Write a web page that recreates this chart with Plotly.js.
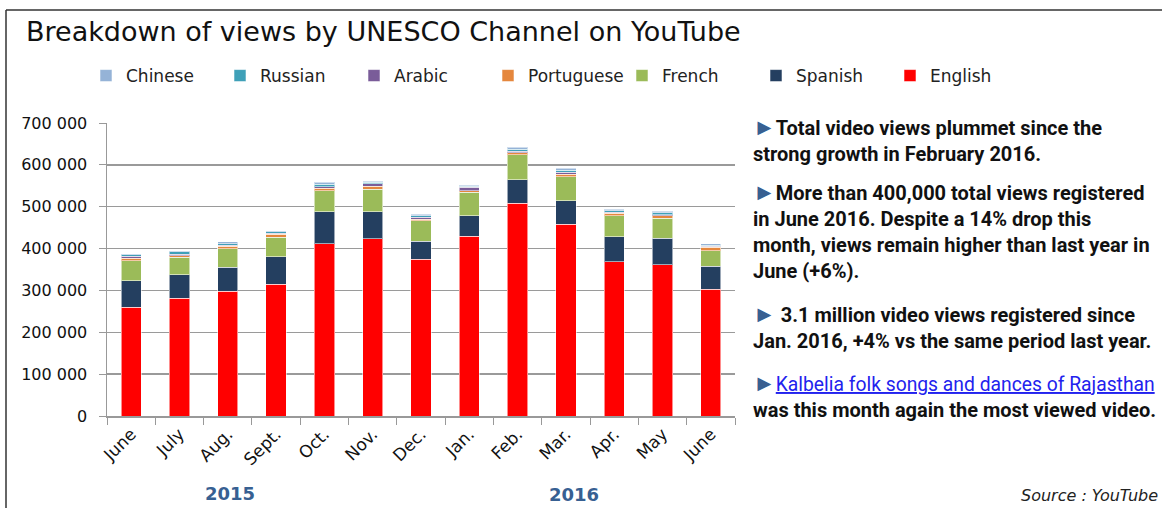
<!DOCTYPE html>
<html><head><meta charset="utf-8">
<script src="https://cdn.plot.ly/plotly-3.0.1.min.js"></script>
<style>html,body{margin:0;padding:0;background:#fff}#chart{width:1162px;height:508px}</style>
</head><body><div id="chart"></div>
<script>
// ---- data ----
const months = ['June','July','Aug.','Sept.','Oct.','Nov.','Dec.','Jan.','Feb.','Mar.','Apr.','May','June'];
const years  = ['2015','2015','2015','2015','2015','2015','2015','2016','2016','2016','2016','2016','2016'];
const english    = [260000,281000,298000,315000,412000,424000,374000,429000,508000,458000,368000,361000,303000];
const spanish    = [63000,56000,57000,65000,76000,64000,44000,49000,56000,56000,60000,64000,55000];
const french     = [48000,42000,45000,47000,50000,54000,48000,56000,60000,58000,50000,48000,37000];
const portuguese = [6000,4000,6000,7000,6000,7000,4000,4000,5000,6000,6000,5000,8000];
const arabic     = [5000,4000,2000,3000,4000,6000,5000,8000,3000,4000,3000,3000,3000];
const russian    = [3000,5000,4000,3000,6000,3000,4000,3000,5000,5000,3000,4000,2000];
const chinese    = [3000,2000,4000,2000,5000,3000,3000,2000,5000,5000,4000,4000,3000];
const seriesNames = ['English','Spanish','French','Portuguese','Arabic','Russian','Chinese'];
const seriesData  = [english,spanish,french,portuguese,arabic,russian,chinese];
const colors = ['#FF0000','#243F60','#9BBB59','#E5873D','#7A5C99','#3FA0B8','#95B3D7'];

const cats = months.map((m,i)=>m+' '+years[i]);

// ---- geometry helpers ----
const L=107, R=735, T=123, B=416;
const px = x => (x-L)/(R-L);
const py = y => (B-y)/(B-T);

const traces = seriesNames.map((n,i)=>({
  type:'bar', name:n, x:cats, y:seriesData[i],
  marker:{color:colors[i], line:{color:'rgba(255,255,255,0.55)', width:1}},
  hoverinfo:'skip'
}));

const arrow = '<span style="color:#376092;font-size:23px">►</span>';
const txtFont = {family:'Roboto, Liberation Sans, Arial', size:20, color:'#111'};

const annotations = [
  {text:'Breakdown of views by UNESCO Channel on YouTube', x:px(24), y:py(31), xanchor:'left', yanchor:'middle',
   font:{family:'DejaVu Sans', size:27, color:'#111'}},
  {text:'2015', x:px(230), y:py(493), xanchor:'center', yanchor:'middle', font:{family:'DejaVu Sans', size:18, color:'#376092', weight:'bold'}},
  {text:'2016', x:px(574), y:py(494), xanchor:'center', yanchor:'middle', font:{family:'DejaVu Sans', size:18, color:'#376092', weight:'bold'}},
  {text:arrow+'<b>Total video views plummet since the<br>strong growth in February 2016.</b>', x:px(751), y:py(112), xanchor:'left', yanchor:'top', align:'left', font:txtFont},
  {text:arrow+'<b>More than 400,000 total views registered<br>in June 2016. Despite a 14% drop this<br>month, views remain higher than last year in<br>June (+6%).</b>', x:px(751), y:py(177), xanchor:'left', yanchor:'top', align:'left', font:txtFont},
  {text:arrow+'<b> 3.1 million video views registered since<br>Jan. 2016, +4% vs the same period last year.</b>', x:px(751), y:py(299), xanchor:'left', yanchor:'top', align:'left', font:txtFont},
  {text:arrow+'<span style="color:#2222EE;font-size:19.3px"><u>Kalbelia folk songs and dances of Rajasthan</u></span><br><b>was this month again the most viewed video.</b>', x:px(751), y:py(368), xanchor:'left', yanchor:'top', align:'left', font:txtFont},
  {text:'<i>Source : YouTube</i>', x:px(1160), y:py(495), xanchor:'right', yanchor:'middle', font:{family:'DejaVu Sans', size:16, color:'#222'}}
].map(a=>Object.assign({xref:'paper', yref:'paper', showarrow:false}, a));

const shapes = [
  {type:'line', xref:'paper', yref:'paper', x0:px(6), x1:px(6), y0:py(10), y1:py(510), line:{color:'#333', width:1.5}},
  {type:'line', xref:'paper', yref:'paper', x0:px(6), x1:px(1165), y0:py(10), y1:py(10), line:{color:'#333', width:1.5}}
];

const layout = {
  width:1162, height:508,
  margin:{l:L, r:1162-R, t:T, b:508-B, pad:0},
  paper_bgcolor:'#fff', plot_bgcolor:'#fff',
  barmode:'stack', bargap:0.58,
  separators:', ',
  showlegend:true,
  legend:{orientation:'h', xref:'paper', yref:'paper', x:px(1024), y:py(76), xanchor:'right', yanchor:'middle',
    traceorder:'reversed', font:{family:'DejaVu Sans', size:17, color:'#222'}, entrywidth:89, entrywidthmode:'pixels', itemwidth:30},
  xaxis:{type:'category', tickmode:'array', tickvals:cats, ticktext:months, tickangle:-45,
    tickfont:{family:'DejaVu Sans', size:17, color:'#111'}, ticks:'outside', tickson:'boundaries', ticklen:7, tickcolor:'#999',
    showline:true, linecolor:'#999', linewidth:1.5, showgrid:false, fixedrange:true},
  yaxis:{range:[0,700000], dtick:100000, tick0:0, tickformat:',d', ticks:'outside', ticklen:7, tickcolor:'#999',
    tickfont:{family:'DejaVu Sans', size:16, color:'#111'}, ticklabelstandoff:8,
    showline:true, linecolor:'#999', linewidth:1.5, showgrid:true, gridcolor:'#9a9a9a', gridwidth:1.3, zeroline:false, fixedrange:true},
  annotations, shapes
};

Plotly.newPlot('chart', traces, layout, {staticPlot:true, displayModeBar:false});
</script></body></html>
